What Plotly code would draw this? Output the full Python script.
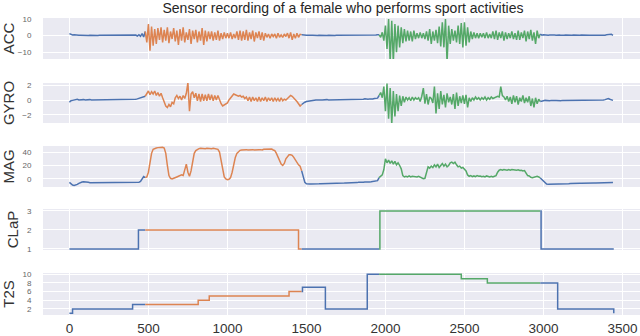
import plotly.graph_objects as go

# sensor rows are sampled every STEP time units (x = index * STEP)
STEP = 10

ACC = [
    1.2, 0.6, 0.4, 0.5, 0.3, 0.4, 0.2, 0.3, 0.2, 0.3,
    0.2, 0.3, 0.1, 0.3, 0.2, 0.1, 0.2, 0.3, 0.1, 0.2,
    0.2, 0.1, 0.2, 0.3, 0.1, 0.2, 0.1, 0.2, 0.3, 0.1,
    0.2, 0.1, 0.2, 0.1, 0.3, 0.2, 0.1, 0.2, 0.1, 0.2,
    0.3, 0.1, 0.4, -0.2, 0.6, -0.4, 1.2, -0.8, 2.5, -4.0,
    7.0, -9.0, 5.5, -6.0, 4.0, -5.0, 4.5, -2.5, 5.0, -4.0,
    3.5, -3.0, 5.0, -4.5, 2.5, -2.0, 4.5, -3.5, 3.0, -5.5,
    4.0, -3.0, 5.0, -4.0, 2.0, -2.5, 4.0, -5.0, 3.0, -2.0,
    3.5, -4.0, 2.5, -3.0, 4.5, -5.5, 3.0, -3.5, 2.5, -2.0,
    2.5, -3.0, 2.0, -2.5, 3.0, -3.0, 1.5, -2.0, 2.0, -1.5,
    1.5, -1.5, 2.0, -2.0, 1.0, -1.5, 2.5, -2.5, 3.0, -3.0,
    2.5, -2.5, 3.5, -3.0, 2.0, -2.0, 3.0, -3.5, 2.0, -1.5,
    2.5, -2.5, 2.0, -3.0, 1.5, -1.0, 1.0, -1.5, 1.0, -0.5,
    1.0, -1.5, 1.5, -1.0, 0.5, -1.0, 1.0, -0.5, 1.5, -1.5,
    2.0, -2.5, 1.0, -1.5, 1.5, -1.0, 0.8, 0.5, 0.3, 0.4,
    0.2, 0.3, 0.1, 0.2, 0.3, 0.1, 0.2, 0.1, 0.3, 0.2,
    0.1, 0.2, 0.3, 0.1, 0.2, 0.1, 0.2, 0.3, 0.1, 0.2,
    0.2, 0.1, 0.3, 0.2, 0.1, 0.2, 0.4, 0.1, 0.2, 0.1,
    0.2, 0.3, 0.1, 0.2, 0.1, 0.3, 0.2, 0.1, 0.2, 0.3,
    0.2, 0.1, 0.3, 0.2, 0.4, 0.6, 0.5, -1.0, 2.0, -3.0,
    6.0, -8.0, 10.0, -16.0, 9.0, -16.0, 7.0, -10.0, 6.0, -7.0,
    5.0, -4.5, 4.0, -3.5, 3.0, -3.0, 2.5, -3.5, 3.0, -2.0,
    1.5, -1.5, 2.0, -1.5, 1.5, -2.0, 2.5, -3.0, 4.0, -5.0,
    2.5, -3.0, 3.5, -4.5, 5.5, -6.5, 8.0, -7.0, 10.0, -16.0,
    6.0, -5.0, 4.0, -3.0, 3.0, -4.0, 6.0, -5.0, 7.5, -7.0,
    8.0, -6.0, 5.0, -4.0, 2.5, -2.0, 2.0, -1.5, 1.5, -1.5,
    1.5, -1.0, 1.5, -1.5, 2.0, -1.5, 1.0, -1.5, 2.5, -2.0,
    3.0, -2.5, 2.0, -1.5, 2.5, -3.0, 2.0, -2.0, 1.5, -1.5,
    2.5, -2.0, 1.5, -2.5, 3.0, -2.5, 2.0, -1.5, 3.0, -3.5,
    2.5, -2.0, 3.5, -3.0, 2.0, -5.0, 3.0, -1.5, 1.0, 0.3,
    0.6, 0.4, 0.5, 0.3, 0.4, 0.5, 0.3, 0.4, 0.3, 0.5,
    0.4, 0.3, 0.5, 0.3, 0.4, 0.3, 0.4, 0.2, 0.3, 0.4,
    0.3, 0.4, 0.2, 0.3, 0.4, 0.3, 0.2, 0.3, 0.4, 0.3,
    0.3, 0.2, 0.4, 0.3, 0.2, 0.3, 0.2, 0.3, 0.4, 0.3,
    0.5, 0.6, 0.3, 0.8, 0.2,
]

GYRO = [
    -0.3, -0.1, -0.05, 0.0, 0.05, 0.1, 0.0, 0.05, 0.0, 0.05,
    0.0, 0.05, 0.0, 0.05, 0.0, 0.0, 0.05, 0.0, 0.05, 0.0,
    0.0, 0.05, 0.0, 0.0, 0.05, 0.0, 0.05, 0.0, 0.0, 0.05,
    0.0, 0.05, 0.0, 0.05, 0.0, 0.05, 0.0, 0.05, 0.05, 0.1,
    0.05, 0.1, 0.1, 0.15, 0.2, 0.3, 0.35, 0.4, 0.5, 0.9,
    1.2, 0.7, 1.1, 0.8, 1.2, 0.6, 1.0, 0.5, 0.9, 0.3,
    -0.2, -0.8, -1.0, -0.6, -0.9, -0.3, -0.5, 0.3, 0.6, 0.2,
    0.5, 0.0, 0.6, 0.2, 0.9, 2.3, -1.5, 0.8, 1.1, 0.3,
    0.9, -0.1, 0.8, -0.2, 0.8, -0.1, 0.7, -0.1, 0.8, 0.0,
    0.7, -0.1, 0.6, 0.0, 0.6, -0.1, -0.5, -0.8, -0.7, -0.5,
    -0.4, 0.0, 0.3, 0.6, 0.8, 0.7, 0.6, 0.5, 0.6, 0.4,
    0.5, 0.2, 0.4, -0.1, 0.4, -0.2, 0.4, -0.1, 0.3, -0.2,
    0.4, -0.2, 0.3, -0.1, 0.4, -0.2, 0.3, -0.1, 0.3, -0.2,
    0.3, -0.1, 0.2, -0.2, 0.3, -0.1, 0.1, 0.0, 0.2, 0.4,
    0.6, 0.5, 0.3, 0.0, -0.2, -0.5, -0.8, -0.6, -0.4, -0.3,
    -0.2, -0.15, -0.1, -0.05, 0.0, -0.05, 0.0, 0.0, 0.05, 0.0,
    0.0, 0.05, 0.0, 0.05, 0.0, 0.0, 0.05, 0.0, 0.05, 0.05,
    0.0, 0.05, 0.1, 0.05, 0.0, 0.05, 0.1, 0.05, 0.05, 0.1,
    0.05, 0.1, 0.05, 0.1, 0.1, 0.05, 0.1, 0.15, 0.1, 0.1,
    0.15, 0.1, 0.15, 0.2, 0.2, 0.25, 0.6, 1.0, 0.3, 1.8,
    -1.5, 2.2, -2.5, 1.6, -3.2, 1.2, -2.2, 0.8, -1.5, 0.6,
    -0.8, 0.5, -0.3, 0.4, 0.0, 0.3, -0.1, 0.4, 0.0, 0.3,
    0.1, 0.3, -0.2, 0.5, 1.6, -0.5, 0.8, -0.6, 0.4, 0.2,
    -0.4, 1.8, -1.8, 0.9, -1.2, 1.2, -0.6, 0.7, -1.0, 0.9,
    -0.3, 0.4, -0.6, 0.8, -1.2, 1.0, -0.8, 0.5, -0.4, 0.6,
    -0.5, 0.7, -1.0, 0.3, -0.2, 0.3, 0.0, 0.4, 0.1, 0.3,
    0.0, 0.3, 0.1, 0.4, 0.0, 0.3, 0.1, 0.4, 0.2, 0.3,
    0.3, 0.5, 0.4, 1.8, 0.6, 0.4, 0.0, 0.5, -0.2, 0.4,
    -0.5, 0.6, -0.3, 0.5, -0.6, 0.3, -0.2, 0.6, -0.4, 0.3,
    -0.3, 0.5, -0.8, 0.2, -1.0, 0.3, -0.5, 0.1, -0.2, -0.1,
    -0.1, -0.05, -0.1, -0.05, -0.1, -0.05, -0.1, -0.05, -0.05, -0.1,
    -0.05, -0.1, -0.05, -0.05, -0.1, -0.05, -0.05, -0.1, -0.05, -0.05,
    -0.05, -0.05, -0.1, -0.05, -0.05, -0.05, -0.1, -0.05, -0.05, -0.05,
    -0.05, -0.05, -0.05, -0.1, -0.05, -0.05, -0.05, -0.05, 0.0, 0.05,
    0.1, 0.2, 0.1, 0.0, -0.05,
]

MAG = [
    -5.0, -7.0, -9.0, -9.5, -9.0, -8.0, -6.5, -5.0, -4.5, -4.0,
    -4.0, -4.5, -5.0, -5.5, -5.5, -6.0, -6.0, -5.8, -6.0, -5.8,
    -6.0, -5.8, -6.0, -5.7, -6.0, -5.8, -6.0, -5.8, -5.9, -6.0,
    -5.8, -6.0, -5.7, -6.0, -5.8, -5.9, -6.0, -5.7, -5.9, -5.8,
    -6.0, -5.7, -5.8, -5.5, -5.0, -3.5, 0.0, 3.5, 2.0, 3.0,
    10.0, 25.0, 38.0, 44.0, 45.5, 46.0, 46.5, 47.0, 46.5, 47.0,
    46.0, 38.0, 20.0, 5.0, 1.0, 0.0, 1.0, 2.5, 3.0, 4.0,
    5.0, 6.0, 5.0, 15.0, 22.0, 10.0, 4.0, 12.0, 28.0, 38.0,
    42.0, 44.0, 45.0, 45.5, 45.0, 45.5, 45.0, 45.5, 45.0, 45.5,
    45.0, 45.5, 45.0, 44.5, 44.0, 40.0, 28.0, 12.0, 3.0, 0.0,
    -1.0, -0.5, 2.0, 10.0, 22.0, 32.0, 38.0, 41.0, 42.5, 43.0,
    43.5, 43.0, 43.5, 43.0, 43.5, 43.0, 43.5, 43.0, 43.5, 43.0,
    43.5, 43.5, 43.0, 44.0, 44.0, 44.5, 44.0, 45.0, 44.5, 43.0,
    42.0, 38.0, 32.0, 26.0, 22.0, 20.0, 23.0, 30.0, 34.0, 36.0,
    36.0, 35.0, 32.0, 28.0, 24.0, 21.0, 19.0, 12.0, 2.0, -5.0,
    -7.0, -7.5, -7.5, -7.3, -7.5, -7.2, -7.4, -7.0, -7.2, -7.0,
    -7.0, -6.8, -7.0, -6.7, -6.8, -6.5, -6.7, -6.4, -6.5, -6.3,
    -6.3, -6.0, -6.2, -5.9, -6.0, -5.8, -5.9, -5.6, -5.7, -5.5,
    -5.5, -5.3, -5.4, -5.0, -5.2, -4.9, -5.0, -4.6, -4.8, -4.5,
    -4.5, -4.2, -4.0, -3.8, -3.5, -2.5, 2.0, 4.0, 6.0, 14.0,
    30.0, 24.0, 28.0, 23.0, 27.0, 22.0, 26.0, 21.0, 24.0, 20.0,
    15.0, 5.0, 3.0, 4.0, 3.0, 4.5, 3.0, 4.0, 3.5, 4.0,
    3.0, 4.0, 3.0, 2.0, 0.5, 1.0, 8.0, 18.0, 16.0, 19.0,
    17.0, 21.0, 18.0, 22.0, 17.0, 20.0, 23.0, 19.0, 22.0, 18.0,
    20.0, 24.0, 25.0, 23.0, 25.0, 21.0, 18.0, 19.0, 16.0, 17.0,
    15.0, 12.0, 6.0, 4.0, 5.0, 3.5, 4.5, 3.5, 5.0, 4.0,
    4.5, 3.5, 4.0, 3.0, 4.5, 3.5, 3.0, 4.0, 3.0, 4.0,
    5.0, 10.0, 13.0, 14.0, 13.0, 14.0, 13.5, 13.0, 14.0, 13.0,
    14.0, 13.5, 14.0, 13.0, 13.5, 12.5, 13.0, 12.0, 12.5, 8.0,
    5.0, 4.5, 2.5, 2.0, 3.0, 3.5, 4.0, 3.0, 1.5, -1.0,
    -4.0, -6.5, -7.5, -8.0, -8.0, -7.8, -7.9, -7.6, -7.7, -7.5,
    -7.5, -7.3, -7.4, -7.1, -7.2, -7.0, -7.0, -6.8, -6.9, -6.7,
    -6.7, -6.5, -6.6, -6.4, -6.4, -6.2, -6.3, -6.1, -6.1, -6.0,
    -6.0, -5.9, -5.9, -5.8, -5.7, -5.8, -5.6, -5.7, -5.5, -5.6,
    -5.5, -5.4, -5.5, -5.3, -5.4,
]

# step signals: level holds from each change point to the next
CLAP_CHANGES = [0, 437, 1450, 1965, 2985]
CLAP_LEVELS = [1, 2, 1, 3, 1]
T2S_CHANGES = [0, 20, 400, 815, 885, 1390, 1475, 1620, 1885, 2480, 2645, 3090, 3445]
T2S_LEVELS = [1, 2, 3, 4, 5, 6, 7, 2, 10, 9, 8, 2, 1]
END = 3445

# activity segments and their colours
SEG_BOUNDS = [0, 480, 1470, 1960, 2980, END]
BLUE, ORANGE, GREEN = "#4C72B0", "#DD8452", "#55A868"
SEG_COLORS = [BLUE, ORANGE, BLUE, GREEN, BLUE]

X_TICKS = [0, 500, 1000, 1500, 2000, 2500, 3000, 3500]

W, H = 640, 336
# name, top px, bottom px, y range, y ticks
PANELS = [
    ("ACC", 18, 59, [-14.0, 10.6], [-10, 0, 10]),
    ("GYRO", 83, 123, [-3.07, 2.27], [-2, 0, 2]),
    ("MAG", 146, 187, [-11.9, 48.9], [0, 20, 40]),
    ("CLaP", 209, 250, [0.947, 3.105], [1, 2, 3]),
    ("T2S", 273, 315, [0.6, 10.3], [2, 4, 6, 8, 10]),
]


def sampled_segments(values):
    xs = [i * STEP for i in range(len(values))]
    out = []
    for k, color in enumerate(SEG_COLORS):
        a, b = SEG_BOUNDS[k], SEG_BOUNDS[k + 1]
        idx = [i for i, x in enumerate(xs) if a <= x <= b]
        out.append(([xs[i] for i in idx], [values[i] for i in idx], color))
    return out


def level_at(changes, levels, x):
    lv = levels[0]
    for c, l in zip(changes, levels):
        if c <= x:
            lv = l
    return lv


def step_segments(changes, levels):
    out = []
    for k, color in enumerate(SEG_COLORS):
        a, b = SEG_BOUNDS[k], SEG_BOUNDS[k + 1]
        xs = [a] + [c for c in changes if a < c < b] + [b]
        ys = [level_at(changes, levels, x) for x in xs]
        out.append((xs, ys, color))
    return out


series = [
    sampled_segments(ACC),
    sampled_segments(GYRO),
    sampled_segments(MAG),
    step_segments(CLAP_CHANGES, CLAP_LEVELS),
    step_segments(T2S_CHANGES, T2S_LEVELS),
]

fig = go.Figure()
for row, segs in enumerate(series, start=1):
    shape = "hv" if row >= 4 else "linear"
    for xs, ys, color in segs:
        fig.add_trace(go.Scatter(
            x=xs, y=ys, mode="lines",
            line=dict(color=color, width=1.5, shape=shape),
            xaxis="x" if row == 1 else f"x{row}",
            yaxis="y" if row == 1 else f"y{row}",
            showlegend=False, hoverinfo="skip",
        ))

layout = dict(
    width=W, height=H,
    margin=dict(l=43, r=0, t=0, b=0),
    paper_bgcolor="white",
    plot_bgcolor="#EAEAF2",
    font=dict(family="Liberation Sans, Arial, sans-serif", color="#333333"),
    title=dict(
        text="Sensor recording of a female who performs sport activities",
        font=dict(size=14, color="#262626"),
        xref="container", x=343 / W, xanchor="center",
        yref="container", y=1 - 8 / H, yanchor="middle",
    ),
    showlegend=False,
)

for row, (name, top, bot, yr, yt) in enumerate(PANELS, start=1):
    sx = "" if row == 1 else str(row)
    layout[f"xaxis{sx}"] = dict(
        domain=[0, 1], anchor=f"y{sx}", range=[-167, 3611],
        tickvals=X_TICKS, showticklabels=(row == 5),
        tickfont=dict(size=13.5, color="#333333"),
        ticks="outside", ticklen=1, tickcolor="rgba(0,0,0,0)",
        showgrid=True, gridcolor="white", gridwidth=1,
        zeroline=False, showline=False, automargin=False,
    )
    layout[f"yaxis{sx}"] = dict(
        domain=[1 - bot / H, 1 - top / H], anchor=f"x{sx}", range=yr,
        tickvals=yt, tickfont=dict(size=8, color="#666666"),
        ticks="outside", ticklen=9, tickcolor="rgba(0,0,0,0)",
        showgrid=True, gridcolor="white", gridwidth=1,
        zeroline=False, showline=False, automargin=False,
        title=dict(text=name, font=dict(size=15, color="#333333"), standoff=4),
    )

fig.update_layout(**layout)
# drop the browser's default body margin so the figure sits at the page corner
fig.write_html(
    "out.html",
    config={"displayModeBar": False},
    post_script="document.body.style.margin='0';",
)
